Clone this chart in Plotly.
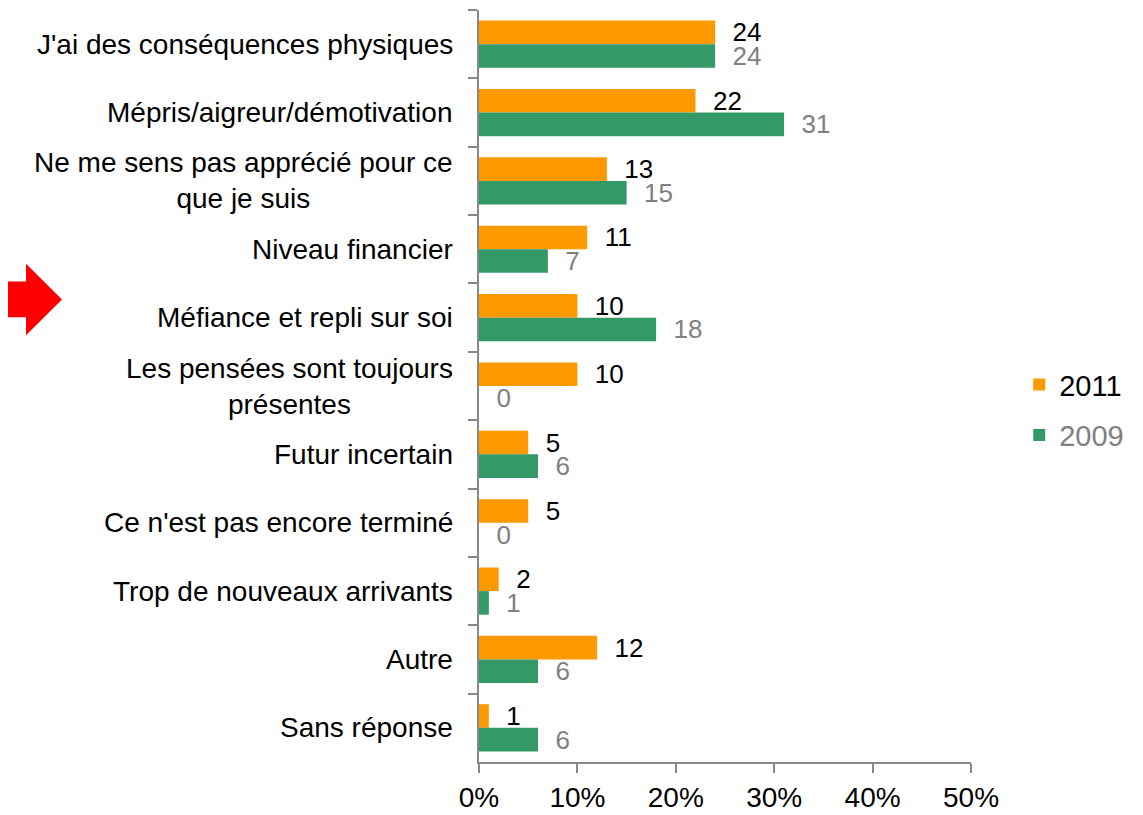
import plotly.graph_objects as go

categories = [
    "J'ai des conséquences physiques",
    "Mépris/aigreur/démotivation",
    "Ne me sens pas apprécié pour ce<br>que je suis",
    "Niveau financier",
    "Méfiance et repli sur soi",
    "Les pensées sont toujours<br>présentes",
    "Futur incertain",
    "Ce n'est pas encore terminé",
    "Trop de nouveaux arrivants",
    "Autre",
    "Sans réponse",
]
values_2011 = [24, 22, 13, 11, 10, 10, 5, 5, 2, 12, 1]
values_2009 = [24, 31, 15, 7, 18, 0, 6, 0, 1, 6, 6]
x_ticks = [0, 10, 20, 30, 40, 50]
x_tick_labels = ["0%", "10%", "20%", "30%", "40%", "50%"]

ORANGE = "#FF9900"
GREEN = "#339966"
GREY_TEXT = "#808080"
AXIS_GREY = "#888888"
FONT = "Liberation Sans, Arial, sans-serif"

# page body adds an 8px margin, so the figure is drawn 8px in from the corner
OFF = 8
W, H = 1143 - OFF, 815 - OFF
M_L, M_R, M_T, M_B = 479 - OFF, 172, 10 - OFF, 49
PW, PH = W - M_L - M_R, H - M_T - M_B

fig = go.Figure()

fig.add_trace(
    go.Bar(
        y=categories,
        x=values_2011,
        orientation="h",
        name="2011",
        legendgroup="a",
        marker=dict(color=ORANGE, line=dict(width=0)),
        text=values_2011,
        texttemplate="\u00a0\u00a0%{text}",
        textposition="outside",
        constraintext="none",
        cliponaxis=False,
        textfont=dict(family=FONT, size=26, color="black"),
    )
)
fig.add_trace(
    go.Bar(
        y=categories,
        x=values_2009,
        orientation="h",
        name="<span style='color:%s'>2009</span>" % GREY_TEXT,
        legendgroup="b",
        marker=dict(color=GREEN, line=dict(width=0)),
        text=values_2009,
        texttemplate="\u00a0\u00a0%{text}",
        textposition="outside",
        constraintext="none",
        cliponaxis=False,
        textfont=dict(family=FONT, size=26, color=GREY_TEXT),
    )
)

# category labels, centred line by line like the original
annotations = []
for cat in categories:
    annotations.append(
        dict(
            x=0,
            xref="paper",
            y=cat,
            yref="y",
            text=cat,
            showarrow=False,
            xanchor="right",
            yanchor="middle",
            align="center",
            xshift=-24,
            font=dict(family=FONT, size=28, color="black"),
        )
    )


def px_to_paper(px, py):
    # px, py are positions in the browser window
    return (px - OFF - M_L) / PW, (H - M_B - (py - OFF)) / PH


arrow_px = [(0, 283), (26, 283), (26, 265), (62, 301), (26, 337), (26, 319), (0, 319)]
pts = [px_to_paper(px, py) for px, py in arrow_px]
path = "M " + " L ".join("%.4f,%.4f" % p for p in pts) + " Z"

fig.update_layout(
    width=W,
    height=H,
    margin=dict(l=M_L, r=M_R, t=M_T, b=M_B, pad=0),
    paper_bgcolor="white",
    plot_bgcolor="white",
    barmode="group",
    bargap=0.31,
    bargroupgap=0,
    font=dict(family=FONT, size=28, color="black"),
    xaxis=dict(
        range=[0, 50],
        tickvals=x_ticks,
        ticktext=x_tick_labels,
        showgrid=False,
        zeroline=False,
        showline=True,
        linecolor=AXIS_GREY,
        linewidth=2,
        ticks="outside",
        ticklen=9,
        tickcolor=AXIS_GREY,
        tickwidth=2,
        tickfont=dict(family=FONT, size=28, color="black"),
    ),
    yaxis=dict(
        categoryorder="array",
        categoryarray=categories,
        autorange="reversed",
        showticklabels=False,
        showgrid=False,
        zeroline=False,
        showline=True,
        linecolor=AXIS_GREY,
        linewidth=2,
        ticks="outside",
        tickson="boundaries",
        ticklen=9,
        tickcolor=AXIS_GREY,
        tickwidth=2,
    ),
    legend=dict(
        x=1.098,
        y=0.468,
        xanchor="left",
        yanchor="middle",
        traceorder="grouped",
        tracegroupgap=10,
        font=dict(family=FONT, size=29, color="black"),
        bgcolor="rgba(0,0,0,0)",
        itemwidth=30,
    ),
    annotations=annotations,
    shapes=[
        dict(
            type="path",
            xref="paper",
            yref="paper",
            path=path,
            fillcolor="#FF0000",
            line=dict(width=0),
        )
    ],
)

fig.write_html("out.html")
